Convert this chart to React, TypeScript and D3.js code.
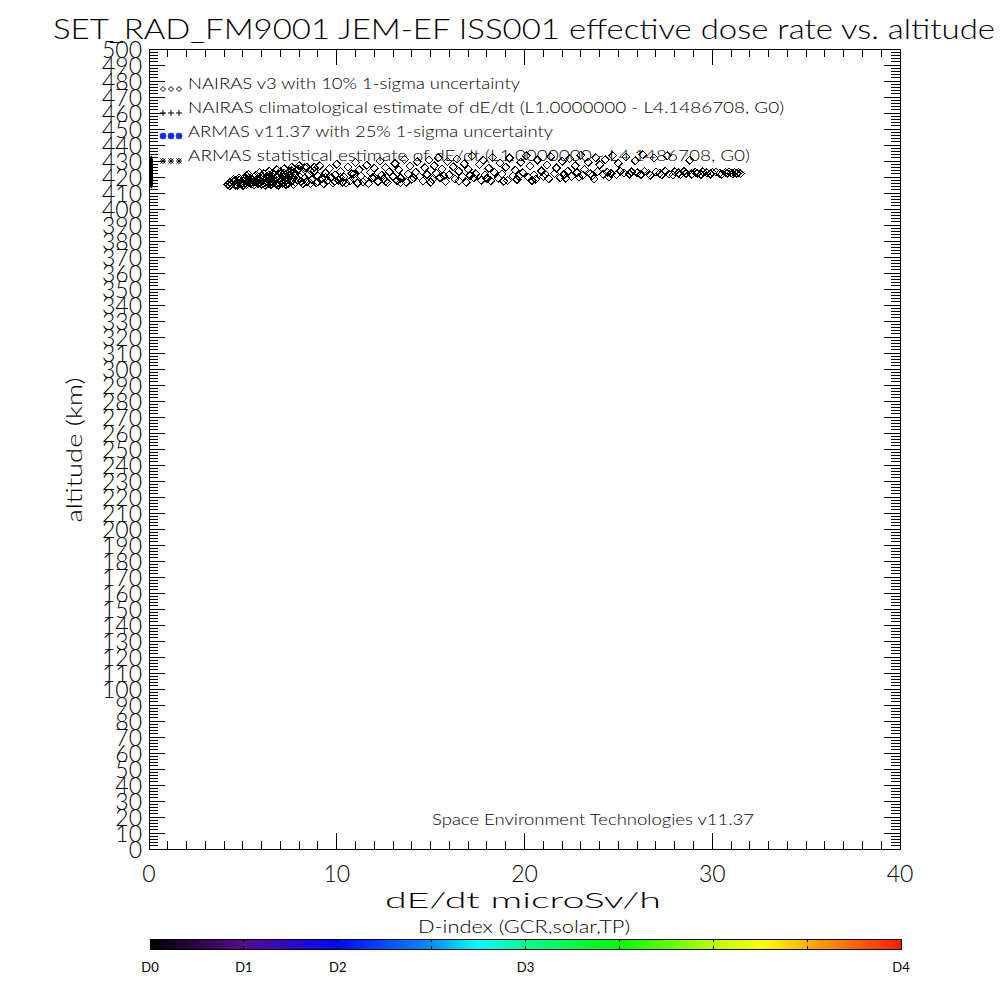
import React from "react";
import * as d3 from "d3";

// ---------- data ----------
const titleText = "SET_RAD_FM9001  JEM-EF ISS001 effective dose rate vs. altitude";
const xLabel = "dE/dt microSv/h";
const yLabel = "altitude (km)";
const creditText = "Space Environment Technologies v11.37";
const colorbarTitle = "D-index (GCR,solar,TP)";

const xDomain = [0, 40];
const yDomain = [0, 500];
const xTickValues = [0, 10, 20, 30, 40];
const yTickValues = d3.range(0, 510, 10);

const legendLabels = [
  "NAIRAS v3 with 10% 1-sigma uncertainty",
  "NAIRAS climatological estimate of dE/dt (L1.0000000 - L4.1486708, G0)",
  "ARMAS v11.37 with 25% 1-sigma uncertainty",
  "ARMAS statistical estimate of dE/dt (L1.0000000 - L4.1486708, G0)",
];
const legendWidths = [332, 596, 365, 562];

// D-index colour bar (value 0..8, labels at 0,1,2,4,8)
const dIndexTicks = [0, 1, 2, 3, 4, 5, 6, 7, 8];
const dIndexLabelValues = [0, 1, 2, 4, 8];
const dIndexLabels = ["D0", "D1", "D2", "D3", "D4"];
const colorStops = [
  [0, "#000000"],
  [0.124, "#560c8c"],
  [0.25, "#0008ff"],
  [0.375, "#0090ff"],
  [0.436, "#00ffff"],
  [0.5, "#00ff90"],
  [0.625, "#00ff00"],
  [0.75, "#b8ff00"],
  [0.816, "#ffff00"],
  [0.875, "#ffb000"],
  [1, "#ff1c00"],
];

// ARMAS statistical estimates sitting at dose 0 (altitude km)
const armasZeroAlt = [
  415.0, 415.6, 416.2, 416.8, 417.4, 418.0, 418.6, 419.2, 419.8, 420.4, 421.0,
  421.6, 422.2, 422.8, 423.4, 424.0, 424.6, 425.2, 425.8, 426.4, 427.0, 427.6,
  428.2, 428.8, 429.4, 430.0, 430.6, 431.2,
];

// NAIRAS v3 points [dose microSv/h, altitude km]
const nairasPoints = [
  [4.2,415.2],[4.3,416.4],[4.4,415.8],[4.5,417.1],[4.6,415.0],[4.7,416.6],[4.8,418.0],[4.9,415.5],[5.0,417.4],[5.0,416.0],
  [5.1,418.6],[5.2,415.3],[5.3,417.0],[5.3,419.2],[5.4,416.2],[5.5,418.0],[5.5,415.6],[5.6,420.0],[5.7,417.2],[5.8,415.9],
  [5.8,418.9],[5.9,416.8],[6.0,420.5],[6.0,415.4],[6.1,418.3],[6.2,416.5],[6.2,419.6],[6.3,417.4],[6.4,421.2],[6.4,415.7],
  [6.5,418.7],[6.6,416.9],[6.6,420.2],[6.7,417.8],[6.8,415.6],[6.8,419.4],[6.9,421.6],[7.0,417.1],[7.0,418.9],[7.1,416.2],
  [7.2,420.4],[7.2,422.3],[7.3,417.6],[7.4,419.0],[7.4,415.9],[7.5,421.0],[7.6,417.5],[7.6,423.8],[7.7,419.7],[7.8,416.6],
  [7.8,422.0],[7.9,418.4],[8.0,425.0],[8.0,420.6],[8.1,417.3],[8.2,423.1],[8.3,419.2],[8.4,426.2],[8.4,416.9],[8.5,421.5],
  [4.6,417.9],[5.1,419.8],[5.6,416.9],[6.1,416.0],[6.5,417.2],[6.9,416.4],[7.3,419.9],[5.4,417.7],[4.9,416.9],[6.3,418.9],
  [4.3,414.6],[4.5,418.3],[4.7,414.8],[4.8,419.4],[5.0,414.7],[5.2,420.8],[5.4,419.1],[5.6,415.0],[5.7,421.4],[5.9,418.1],
  [6.1,422.0],[6.2,414.9],[6.3,420.4],[6.5,415.2],[6.6,422.6],[6.7,418.8],[6.9,414.9],[7.0,423.2],[7.1,420.9],[7.3,415.3],
  [7.5,423.5],[7.7,415.4],[7.9,424.6],[8.1,421.9],[8.2,415.8],[8.3,425.8],[8.6,423.9],[8.6,416.0],
  [5.3,421.6],[5.9,422.8],[6.4,423.6],[6.8,424.4],[7.2,425.2],[7.6,426.0],[8.0,427.0],[8.8,426.0],
  [8.7,418.3],[8.8,424.0],[8.9,416.4],[9.0,420.8],[9.1,427.0],[9.2,418.9],[9.3,415.8],[9.4,422.4],[9.5,417.6],[9.6,425.3],
  [9.7,419.6],[9.8,416.2],[9.9,421.3],[10.0,428.0],[10.1,418.0],[10.2,423.6],[10.3,416.9],[10.4,420.0],[10.6,426.4],[10.7,417.4],
  [10.8,422.1],[10.9,419.0],[11.0,429.0],[11.1,416.3],[11.2,424.6],[11.3,420.7],[11.5,418.2],[11.6,427.3],[11.7,415.9],[11.8,422.8],
  [11.9,419.5],[12.0,425.6],[12.2,417.2],[12.3,430.0],[12.4,421.0],[12.5,418.8],[12.6,426.0],[12.7,416.5],[12.8,423.2],[13.0,420.2],
  [13.1,428.4],[13.2,417.8],[13.3,424.4],[13.4,419.3],[13.6,431.0],[13.7,416.8],[13.8,421.8],[13.9,426.8],[14.0,418.6],[14.2,423.0],
  [14.3,429.5],[14.4,420.4],[14.6,417.4],[14.7,425.8],[14.8,421.6],[14.9,430.6],
  [9.0,417.0],[9.4,419.8],[9.9,417.3],[10.2,419.6],[10.5,416.2],[10.9,421.7],[11.4,417.0],[12.0,419.8],[12.6,417.4],[13.4,416.6],
  [14.1,419.6],[15.0,416.8],[15.7,420.8],[16.5,417.5],[17.1,420.9],[18.0,419.0],[18.9,417.4],[19.7,420.4],[20.4,417.8],[21.1,421.8],
  [22.2,419.1],[22.9,419.9],[23.7,418.8],[24.5,420.1],
  [15.1,418.5],[15.2,427.0],[15.3,422.3],[15.4,432.0],[15.5,419.8],[15.6,425.0],[15.8,417.2],[15.9,429.6],[16.0,421.4],[16.2,426.5],
  [16.3,418.9],[16.4,431.3],[16.5,423.6],[16.7,420.2],[16.8,428.2],[16.9,416.8],[17.0,424.8],[17.2,433.0],[17.3,419.5],[17.4,422.0],
  [17.6,427.8],[17.7,418.0],[17.8,430.4],[17.9,421.2],[18.1,425.4],[18.2,417.6],[18.3,432.2],[18.4,423.0],[18.6,419.3],[18.7,428.8],
  [18.8,421.8],[19.0,426.2],[19.1,417.9],[19.2,431.8],[19.4,420.6],[19.5,424.2],[19.6,418.4],[19.8,429.2],[19.9,422.6],[20.1,433.2],
  [20.2,419.8],[20.3,426.9],[20.5,421.3],[20.6,418.6],[20.7,430.6],[20.9,423.8],[21.0,420.3],[21.2,427.6],[21.3,418.9],[21.4,432.6],
  [21.6,422.2],[21.7,425.6],[21.9,419.6],
  [22.0,429.8],[22.1,421.6],[22.3,423.6],[22.4,431.4],[22.5,420.2],[22.7,427.0],[22.8,422.8],[23.0,433.6],[23.1,421.0],[23.2,424.6],
  [23.4,429.2],[23.5,422.0],[23.6,420.8],[23.8,432.0],[23.9,423.4],[24.0,427.6],[24.2,421.7],[24.3,430.8],[24.4,423.0],[24.6,422.2],
  [24.7,433.4],[24.9,421.4],[25.0,428.6],[25.1,423.6],[25.3,422.4],[25.4,432.6],[25.6,421.9],[25.7,423.2],[25.9,430.2],
  [26.0,422.6],[26.2,421.5],[26.3,434.0],[26.4,423.4],[26.6,422.1],[26.7,421.0],[26.9,431.8],[27.0,423.0],[27.2,422.3],[27.3,421.4],
  [27.5,423.6],[27.6,433.2],[27.7,422.0],[27.9,421.2],[28.0,423.2],[28.2,422.5],[28.3,421.6],[28.5,423.4],[28.6,422.2],[28.8,430.6],
  [28.9,421.8],[29.1,423.0],[29.2,422.4],[29.4,421.5],[29.5,423.3],[29.7,422.6],[29.9,421.9],[30.0,422.8],[30.2,423.2],[30.4,422.4],
  [30.5,421.8],[30.7,422.9],[30.8,422.3],[30.9,423.1],[31.0,422.6],[31.1,422.0],[31.2,422.8],[31.3,422.4],[31.4,422.7],[31.5,422.2],
];

// ---------- layout ----------
const PL = 149, PR = 900, PT = 49, PB = 849;
const FONT = "Lato, 'DejaVu Sans', sans-serif";
const FW = 300;

const diamond = (cx: number, cy: number, s: number) =>
  `M${cx},${cy - s}L${cx + s},${cy}L${cx},${cy + s}L${cx - s},${cy}Z`;

export default function App() {
  const x = d3.scaleLinear().domain(xDomain).range([PL, PR]);
  const y = d3.scaleLinear().domain(yDomain).range([PB, PT]);
  const xMinor = d3.range(xDomain[0], xDomain[1] + 1, 1);
  const yMinor = d3.range(yDomain[0], yDomain[1] + 1, 2);

  const cb = d3.scaleLinear().domain([0, 8]).range([150, 901]);
  const cbTop = 939, cbH = 10;

  return (
    <svg
      width={1000}
      height={1000}
      style={{ position: "absolute", left: 0, top: 0, background: "#fff" }}
      fontFamily={FONT}
      fontWeight={FW}
    >
      <defs>
        <clipPath id="plotClip">
          <rect x={PL} y={PT} width={PR - PL} height={PB - PT} />
        </clipPath>
        <linearGradient id="cbGrad" x1="0" x2="1" y1="0" y2="0">
          {colorStops.map(([o, c], i) => (
            <stop key={i} offset={o as number} stopColor={c as string} />
          ))}
        </linearGradient>
      </defs>

      {/* title */}
      <text x={53} y={39} fontSize={27} textLength={942} lengthAdjust="spacingAndGlyphs" fill="#000">
        {titleText}
      </text>

      {/* data */}
      <g clipPath="url(#plotClip)">
        {armasZeroAlt.map((a, i) => (
          <path
            key={"a" + i}
            d={`M${x(0) - 4},${y(a)}H${x(0) + 4}M${x(0)},${y(a) - 4}V${y(a) + 4}M${x(0) - 3},${y(a) - 3}L${x(0) + 3},${y(a) + 3}M${x(0) - 3},${y(a) + 3}L${x(0) + 3},${y(a) - 3}`}
            stroke="#000"
            strokeWidth={1.4}
          />
        ))}
        {nairasPoints.map(([d, a], i) => (
          <path
            key={"n" + i}
            d={diamond(x(d), y(a), 4)}
            fill="none"
            stroke="#000"
            strokeWidth={1}
            shapeRendering="crispEdges"
          />
        ))}
      </g>

      {/* frame */}
      <rect x={PL} y={PT} width={PR - PL} height={PB - PT} fill="none" stroke="#000" strokeWidth={1} shapeRendering="crispEdges" />

      {/* ticks */}
      <g stroke="#000" strokeWidth={1} shapeRendering="crispEdges">
        {xMinor.map((v) => {
          const major = xTickValues.includes(v);
          const L = major ? 16 : 8;
          return (
            <g key={"xt" + v}>
              <line x1={x(v)} x2={x(v)} y1={PB} y2={PB - L} />
              <line x1={x(v)} x2={x(v)} y1={PT} y2={PT + L} />
            </g>
          );
        })}
        {yMinor.map((v) => {
          const major = v % 10 === 0;
          const L = major ? 16 : 9;
          return (
            <g key={"yt" + v}>
              <line x1={PL} x2={PL + L} y1={y(v)} y2={y(v)} />
              <line x1={PR} x2={PR - L} y1={y(v)} y2={y(v)} />
            </g>
          );
        })}
      </g>

      {/* x tick labels */}
      {xTickValues.map((v) => (
        <text key={"xl" + v} x={x(v)} y={882} fontSize={23} textAnchor="middle" fill="#000">
          {v}
        </text>
      ))}
      {/* y tick labels */}
      {yTickValues.map((v) => (
        <text key={"yl" + v} x={142} y={y(v) + 8.5} fontSize={23} textAnchor="end" fill="#000">
          {v}
        </text>
      ))}

      {/* axis titles */}
      <text x={385} y={908} fontSize={22} textLength={276} lengthAdjust="spacingAndGlyphs" fill="#000">
        {xLabel}
      </text>
      <text
        transform={`translate(82,450) rotate(-90)`}
        x={0}
        y={0}
        fontSize={22}
        textLength={145}
        lengthAdjust="spacingAndGlyphs"
        textAnchor="middle"
        fill="#000"
      >
        {yLabel}
      </text>

      {/* legend */}
      {legendLabels.map((t, i) => {
        const ly = 84 + i * 24;
        const sy = ly + 5;
        const xs = [163, 171, 179];
        let sym: React.ReactNode = null;
        if (i === 0)
          sym = xs.map((sx) => <path key={sx} d={diamond(sx, sy, 2.5)} fill="none" stroke="#000" strokeWidth={1} />);
        else if (i === 1)
          sym = xs.map((sx) => (
            <path key={sx} d={`M${sx - 3},${sy}H${sx + 3}M${sx},${sy - 3}V${sy + 3}`} stroke="#000" strokeWidth={1} />
          ));
        else if (i === 2)
          sym = xs.map((sx) => <circle key={sx} cx={sx} cy={sy - 1} r={3.3} fill="#1530e6" />);
        else
          sym = xs.map((sx) => (
            <path
              key={sx}
              d={`M${sx - 3},${sy}H${sx + 3}M${sx},${sy - 3}V${sy + 3}M${sx - 2.5},${sy - 2.5}L${sx + 2.5},${sy + 2.5}M${sx - 2.5},${sy + 2.5}L${sx + 2.5},${sy - 2.5}`}
              stroke="#000"
              strokeWidth={1}
            />
          ));
        return (
          <g key={"lg" + i}>
            {sym}
            <text x={188} y={ly + 5} fontSize={15} textLength={legendWidths[i]} lengthAdjust="spacingAndGlyphs" fill="#000">
              {t}
            </text>
          </g>
        );
      })}

      {/* credit */}
      <text x={432} y={825} fontSize={15} textLength={322} lengthAdjust="spacingAndGlyphs" fill="#000">
        {creditText}
      </text>

      {/* colour bar */}
      <text x={418} y={933} fontSize={17} textLength={212} lengthAdjust="spacingAndGlyphs" fill="#000">
        {colorbarTitle}
      </text>
      <rect x={cb(0)} y={cbTop} width={cb(8) - cb(0)} height={cbH} fill="url(#cbGrad)" stroke="#000" strokeWidth={1} shapeRendering="crispEdges" />
      <g stroke="#000" strokeWidth={1} shapeRendering="crispEdges">
        {dIndexTicks.slice(1, -1).map((v) => (
          <g key={"cbt" + v}>
            <line x1={cb(v)} x2={cb(v)} y1={cbTop} y2={cbTop + 3} />
            <line x1={cb(v)} x2={cb(v)} y1={cbTop + cbH - 3} y2={cbTop + cbH} />
          </g>
        ))}
      </g>
      {dIndexLabelValues.map((v, i) => (
        <text key={"cbl" + v} x={cb(v)} y={972} fontSize={13} fontWeight={400} textAnchor="middle" fill="#000">
          {dIndexLabels[i]}
        </text>
      ))}
    </svg>
  );
}
